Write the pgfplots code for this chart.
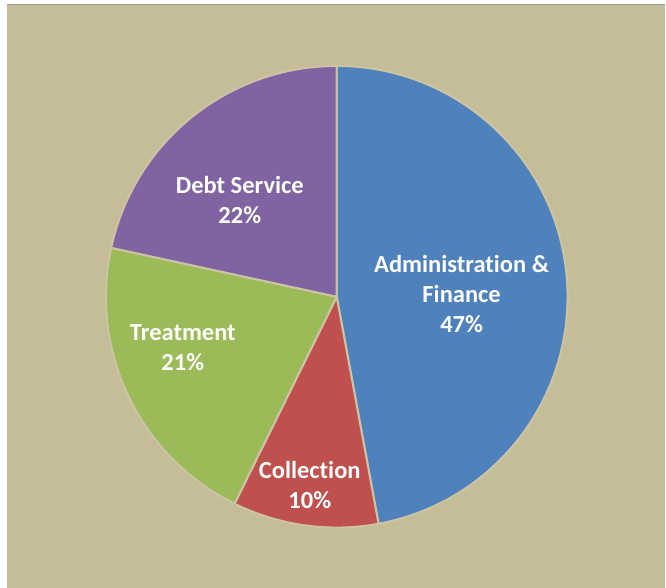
\documentclass[border=0pt]{standalone}
\usepackage{pgfplots}
\usepackage{pgfplotstable}
\usepackage{fontspec}
\setmainfont{Carlito}[Ligatures=NoCommon]
\pgfplotsset{compat=1.18}

\definecolor{bgtan}{HTML}{C4BD97}
\definecolor{admin}{HTML}{4F81BD}
\definecolor{collect}{HTML}{C0504D}
\definecolor{treat}{HTML}{9BBB59}
\definecolor{debt}{HTML}{8064A2}
\definecolor{sep}{HTML}{CCC4A4}

% budget shares in percent, clockwise from 12 o'clock
\pgfplotstableread{
name        value
Admin       47.1
Collection  10.2
Treatment   21.1
Debt        21.6
}\budget

\begin{document}
\begin{tikzpicture}
\pgfplotstablegetelem{0}{value}\of\budget\let\va\pgfplotsretval
\pgfplotstablegetelem{1}{value}\of\budget\let\vb\pgfplotsretval
\pgfplotstablegetelem{2}{value}\of\budget\let\vc\pgfplotsretval
\pgfplotstablegetelem{3}{value}\of\budget\let\vd\pgfplotsretval
\pgfmathsetmacro{\aA}{90}
\pgfmathsetmacro{\aB}{\aA-3.6*\va}
\pgfmathsetmacro{\aC}{\aB-3.6*\vb}
\pgfmathsetmacro{\aD}{\aC-3.6*\vc}
\pgfmathsetmacro{\aE}{\aD-3.6*\vd}
\def\R{173.25pt}
\begin{axis}[
    x=173.25pt, y=173.25pt,
    xmin=-1.4589, xmax=1.4242,
    ymin=-1.2597, ymax=1.2857,
    hide axis,
    clip=false,
]
% background
\fill[white] (axis cs:-1.4589,-1.2597) rectangle (axis cs:1.4242,1.2857);
\fill[bgtan] (axis cs:-1.4286,-1.2597) rectangle (axis cs:1.4242,1.2662);
\draw[gray!80, line width=0.8pt] (axis cs:-1.4286,1.2662) -- (axis cs:1.4242,1.2662);

% slices
\fill[admin, draw=sep, line width=1.5pt] (axis cs:0,0) -- ++(\aA:\R) arc[start angle=\aA, end angle=\aB, radius=\R] -- cycle;
\fill[collect, draw=sep, line width=1.5pt] (axis cs:0,0) -- ++(\aB:\R) arc[start angle=\aB, end angle=\aC, radius=\R] -- cycle;
\fill[treat, draw=sep, line width=1.5pt] (axis cs:0,0) -- ++(\aC:\R) arc[start angle=\aC, end angle=\aD, radius=\R] -- cycle;
\fill[debt, draw=sep, line width=1.5pt] (axis cs:0,0) -- ++(\aD:\R) arc[start angle=\aD, end angle=\aE, radius=\R] -- cycle;

% labels
\tikzset{lbl/.style={text=white, align=center, font=\bfseries\fontsize{18.4}{22.5}\selectfont}}
\node[lbl] at (axis cs:0.5411,0.0108) {Administration \&\\Finance\\47\%};
\node[lbl] at (axis cs:-0.1169,-0.8160) {Collection\\10\%};
\node[lbl] at (axis cs:-0.6667,-0.2186) {Treatment\\21\%};
\node[lbl] at (axis cs:-0.4199,0.4177) {Debt Service\\22\%};
\end{axis}
\end{tikzpicture}
\end{document}
